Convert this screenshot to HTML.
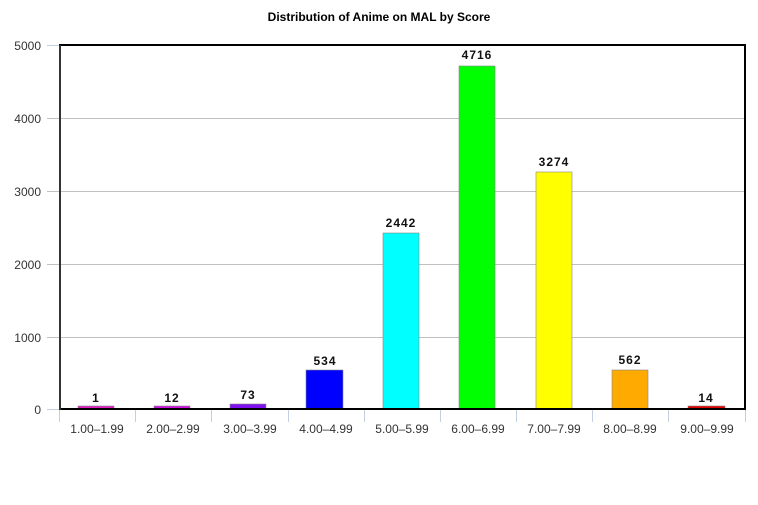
<!DOCTYPE html>
<html><head><meta charset="utf-8"><style>body{margin:0;background:#fff}svg{display:block;font-family:"Liberation Sans",sans-serif}</style></head><body>
<svg width="758" height="505" viewBox="0 0 758 505" xmlns="http://www.w3.org/2000/svg">
<text x="379" y="21" text-anchor="middle" font-size="12" font-weight="bold" fill="#000">Distribution of Anime on MAL by Score</text>
<g stroke="#c0c0c0" stroke-width="1">
<line x1="47" y1="118.5" x2="745" y2="118.5"/>
<line x1="47" y1="191.5" x2="745" y2="191.5"/>
<line x1="47" y1="264.5" x2="745" y2="264.5"/>
<line x1="47" y1="337.5" x2="745" y2="337.5"/>
</g>
<g stroke="#c0d0e0" stroke-width="1">
<line x1="47" y1="45.5" x2="60" y2="45.5"/>
<line x1="47" y1="409.5" x2="60" y2="409.5"/>
</g>
<g font-size="12" fill="#333" text-anchor="end">
<text x="41" y="50">5000</text><text x="41" y="123">4000</text><text x="41" y="196">3000</text>
<text x="41" y="269">2000</text><text x="41" y="342">1000</text><text x="41" y="414">0</text>
</g>
<g stroke="#888" stroke-width="0.6">
<rect x="78" y="406" width="36" height="3" fill="#e020c0"/>
<rect x="154" y="406" width="36" height="3" fill="#d010e0"/>
<rect x="230" y="404" width="36" height="5" fill="#8010f0"/>
<rect x="306" y="370" width="37" height="39" fill="#0000ff"/>
<rect x="383" y="233" width="36" height="176" fill="#00ffff"/>
<rect x="459" y="66" width="36" height="343" fill="#00ff00"/>
<rect x="536" y="172" width="36" height="237" fill="#ffff00"/>
<rect x="612" y="370" width="36" height="39" fill="#ffaa00"/>
<rect x="688" y="406" width="37" height="3" fill="#e00000"/>
</g>
<g font-size="12" font-weight="bold" fill="#111" text-anchor="middle" letter-spacing="1">
<text x="96" y="402">1</text><text x="172" y="402">12</text><text x="248" y="399">73</text>
<text x="325" y="365">534</text><text x="401" y="227">2442</text><text x="477" y="59">4716</text>
<text x="554" y="166">3274</text><text x="630" y="364">562</text><text x="706" y="402">14</text>
</g>
<rect x="60" y="45" width="685" height="364" fill="none" stroke="#000" stroke-width="2"/>
<line x1="60" y1="45" x2="60" y2="410" stroke="#333" stroke-width="2"/>
<g stroke="#c0d0e0" stroke-width="1">
<line x1="59.5" y1="410" x2="59.5" y2="422"/><line x1="135.5" y1="410" x2="135.5" y2="422"/>
<line x1="211.5" y1="410" x2="211.5" y2="422"/><line x1="288.5" y1="410" x2="288.5" y2="422"/>
<line x1="364.5" y1="410" x2="364.5" y2="422"/><line x1="440.5" y1="410" x2="440.5" y2="422"/>
<line x1="516.5" y1="410" x2="516.5" y2="422"/><line x1="592.5" y1="410" x2="592.5" y2="422"/>
<line x1="668.5" y1="410" x2="668.5" y2="422"/><line x1="745.5" y1="410" x2="745.5" y2="422"/>
</g>
<g font-size="12" fill="#333" text-anchor="middle">
<text x="97" y="433">1.00–1.99</text><text x="173" y="433">2.00–2.99</text><text x="250" y="433">3.00–3.99</text>
<text x="326" y="433">4.00–4.99</text><text x="402" y="433">5.00–5.99</text><text x="478" y="433">6.00–6.99</text>
<text x="554" y="433">7.00–7.99</text><text x="630" y="433">8.00–8.99</text><text x="707" y="433">9.00–9.99</text>
</g>
</svg>
</body></html>
